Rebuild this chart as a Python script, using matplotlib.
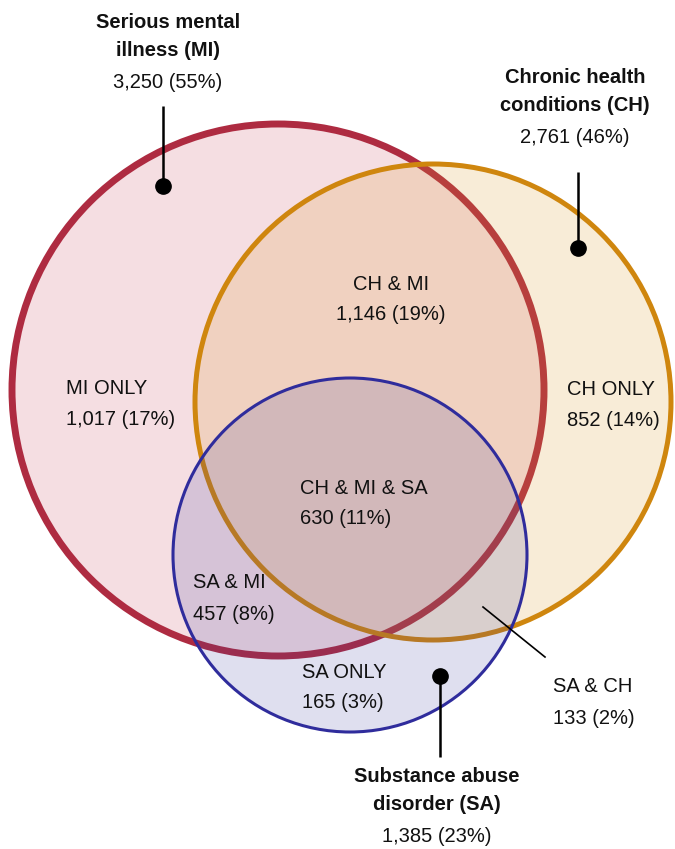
import matplotlib
matplotlib.use("Agg")
import matplotlib.pyplot as plt
from matplotlib.patches import Circle

# ---- data ----
set_names = ["Serious mental\nillness (MI)", "Chronic health\nconditions (CH)", "Substance abuse\ndisorder (SA)"]
set_counts = [3250, 2761, 1385]
set_pcts = [55, 46, 23]

region_names = ["MI ONLY", "CH ONLY", "SA ONLY", "CH & MI", "SA & MI", "SA & CH", "CH & MI & SA"]
region_counts = [1017, 852, 165, 1146, 457, 133, 630]
region_pcts = [17, 14, 3, 19, 8, 2, 11]

# ---- layout (pixel coordinates) ----
W, H = 675, 849
circles = [  # cx, cy, r, edge, face, alpha, lw
    (278, 390, 266, "#AE2B41", "#C4354E", 0.16, 5.0),
    (433, 402, 238, "#CF860E", "#DE9A2E", 0.19, 3.6),
    (350, 555, 177, "#2F2C9C", "#3A3A9E", 0.16, 2.2),
]

plt.rcParams["font.family"] = ["Liberation Sans", "DejaVu Sans"]

fig = plt.figure(figsize=(W / 100, H / 100), dpi=100)
ax = fig.add_axes([0, 0, 1, 1])
ax.set_xlim(0, W)
ax.set_ylim(H, 0)
ax.set_aspect("equal")
ax.axis("off")

for cx, cy, r, ec, fc, a, lw in circles:
    ax.add_patch(Circle((cx, cy), r, facecolor=fc, alpha=a, edgecolor="none"))
    ax.add_patch(Circle((cx, cy), r, facecolor="none", edgecolor=ec, lw=lw))

fs = 14.5
txt = "#111111"
# set titles
title_pos = [(168, 22), (575, 77), (437, 776)]
for (x, y), name, c, p in zip(title_pos, set_names, set_counts, set_pcts):
    l1, l2 = name.split("\n")
    ax.text(x, y, l1, ha="center", va="center", fontsize=fs, fontweight="bold", color=txt)
    ax.text(x, y + 28, l2, ha="center", va="center", fontsize=fs, fontweight="bold", color=txt)
    ax.text(x, y + 60, f"{c:,} ({p}%)", ha="center", va="center", fontsize=fs, color=txt)

# leader lines with dots
leaders = [((163, 106), (163, 186)), ((578, 172), (578, 248)), ((440, 757), (440, 676))]
for (x0, y0), (x1, y1) in leaders:
    ax.plot([x0, x1], [y0, y1], color="black", lw=1.8, solid_capstyle="butt")
    ax.plot([x1], [y1], "o", color="black", ms=11)
ax.plot([483, 545], [607, 657], color="black", lw=1.2)

# region labels
region_pos = [(66, 388, "left"), (567, 389, "left"), (302, 672, "left"),
              (391, 284, "center"), (193, 583, "left"), (553, 687, "left"),
              (300, 488, "left")]
for (x, y, ha), n, c, p in zip(region_pos, region_names, region_counts, region_pcts):
    ax.text(x, y, n, ha=ha, va="center", fontsize=fs, color=txt)
    ax.text(x, y + 31, f"{c:,} ({p}%)", ha=ha, va="center", fontsize=fs, color=txt)

fig.savefig("out.png", dpi=100)
